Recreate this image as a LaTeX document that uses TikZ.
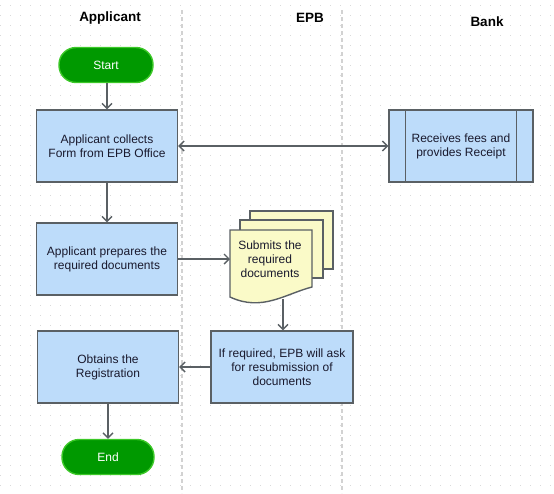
\documentclass[tikz,border=0pt]{standalone}
\usepackage{fontspec}
\setmainfont{Liberation Sans}
\usepackage{tikz}
\usetikzlibrary{arrows.meta}

\definecolor{boxblue}{RGB}{189,220,250}
\definecolor{edgegray}{RGB}{90,96,100}
\definecolor{startgreen}{RGB}{0,153,0}
\definecolor{rimgreen}{RGB}{60,200,40}
\definecolor{docyellow}{RGB}{250,250,200}
\definecolor{inktext}{RGB}{25,25,45}

\tikzset{
  lane/.style={font=\fontsize{13.5}{15}\selectfont\bfseries},
  procbox/.style={draw=edgegray, line width=1.4pt, fill=boxblue, minimum width=141pt,
    minimum height=72pt, align=center, text=inktext, font=\fontsize{12}{14}\selectfont},
  terminal/.style={draw=rimgreen, line width=1.4pt, fill=startgreen, rounded corners=17pt,
    minimum width=94pt, minimum height=35pt, text=white, font=\fontsize{12}{14}\selectfont},
  flow/.style={draw=edgegray, line width=1.4pt, -{Straight Barb[length=5pt,width=10pt]}},
  docpage/.style={draw=edgegray, line width=1.4pt, fill=docyellow},
  dotgrid/.style={gray!30, line width=0.9pt, dash pattern=on 0.9pt off 9.1pt}
}

\begin{document}
\begin{tikzpicture}[x=1pt,y=-1pt]
\useasboundingbox (0,0) rectangle (554,493);
\foreach \y in {5,15,...,485}
  \draw[dotgrid] (0,\y) -- (554,\y);
% lanes
\draw[gray!35, line width=1.2pt, dash pattern=on 4pt off 3pt] (182,10) -- (182,493);
\draw[gray!35, line width=1.2pt, dash pattern=on 4pt off 3pt] (342,10) -- (342,493);
\node[lane] (applicant) at (110,18) {Applicant};
\node[lane] (epb) at (310,18) {EPB};
\node[lane] (bank) at (487,22) {Bank};

\node[terminal] (start) at (106,65) {Start};
\node[procbox] (collect) at (107,146) {Applicant collects\\Form from EPB Office};
\node[procbox, minimum width=144pt] (receipt) at (461,146) {Receives fees and\\provides Receipt};
\draw[edgegray, line width=1.4pt] ([xshift=17pt]receipt.north west) -- ([xshift=17pt]receipt.south west)
  ([xshift=-17pt]receipt.north east) -- ([xshift=-17pt]receipt.south east);
\node[procbox] (prepare) at (107,259) {Applicant prepares the\\required documents};

% stacked documents
\draw[docpage] (250,211) rectangle (333,269);
\draw[docpage] (240,220) rectangle (323,278);
\draw[docpage] (230,230) -- (312,230) -- (312,287)
  .. controls (285,294) and (262,312) .. (230,297) -- cycle;
\node[align=center, text=inktext, font=\fontsize{12}{14}\selectfont] (submit) at (270,259)
  {Submits the\\required\\documents};
\coordinate (submitin) at (230,259);
\coordinate (submitout) at (283,299);

\node[procbox, minimum width=142pt] (resubmit) at (282,367)
  {If required, EPB will ask\\for resubmission of\\documents};
\node[procbox] (obtain) at (108,367) {Obtains the\\Registration};
\node[terminal, minimum width=92pt] (end) at (108,457) {End};

\draw[flow] (start.south -| collect) -- (collect);
\draw[flow, {Straight Barb[length=5pt,width=10pt]}-{Straight Barb[length=5pt,width=10pt]}]
  (collect) -- (collect -| receipt.west);
\draw[flow] (collect) -- (prepare);
\draw[flow] (prepare.east) -- (submitin);
\draw[flow] (submitout) -- (submitout |- resubmit.north);
\draw[flow] (resubmit) -- (obtain);
\draw[flow] (obtain) -- (end);
\end{tikzpicture}
\end{document}
